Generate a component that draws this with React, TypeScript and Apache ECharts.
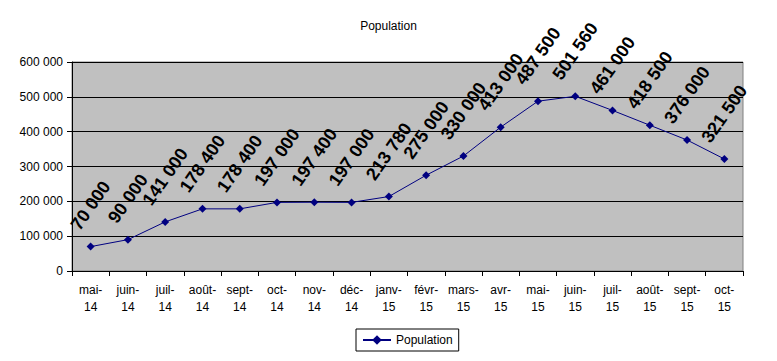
import React, { useEffect, useRef } from "react";
import * as echarts from "echarts";

const categories = [
  "mai-14", "juin-14", "juil-14", "août-14", "sept-14", "oct-14", "nov-14", "déc-14", "janv-15",
  "févr-15", "mars-15", "avr-15", "mai-15", "juin-15", "juil-15", "août-15", "sept-15", "oct-15",
];
const population = [
  70000, 90000, 141000, 178400, 178400, 197000, 197400, 197000, 213780,
  275000, 330000, 413000, 487500, 501560, 461000, 418500, 376000, 321500,
];
const yTicks = { min: 0, max: 600000, interval: 100000 };

const fmt = (v: number) => String(v).replace(/\B(?=(\d{3})+(?!\d))/g, " ");

export default function App() {
  const ref = useRef<HTMLDivElement>(null);
  useEffect(() => {
    const chart = echarts.init(ref.current!, null, { renderer: "svg" });
    const font = "Arial, 'Liberation Sans', sans-serif";
    const angle = 55;
    const labelData = population.map((v) => {
      const s = fmt(v);
      const digits = s.replace(/ /g, "").length;
      const spaces = s.length - digits;
      const len = digits * 10 + spaces * 5;
      return { value: v, label: { distance: 14.5 + len * 0.41 } };
    });
    chart.setOption({
      animation: false,
      backgroundColor: "#fff",
      textStyle: { fontFamily: font },
      title: {
        text: "Population",
        left: "center",
        top: 15,
        textStyle: { fontSize: 12, fontWeight: "normal", color: "#000", fontFamily: font },
      },
      legend: {
        left: 356,
        top: 329,
        padding: [5, 6, 5, 6],
        borderColor: "#000",
        borderWidth: 1,
        itemWidth: 28,
        itemHeight: 12,
        textStyle: { fontSize: 12, color: "#000", fontFamily: font },
        data: ["Population"],
      },
      grid: {
        left: 72,
        right: 34,
        top: 62,
        bottom: 90,
        show: true,
        backgroundColor: "#C0C0C0",
        borderColor: "#808080",
        borderWidth: 1,
      },
      xAxis: {
        type: "category",
        data: categories,
        boundaryGap: true,
        axisLine: { lineStyle: { color: "#000", width: 1 } },
        axisTick: { show: true, length: 5, lineStyle: { color: "#000" } },
        axisLabel: {
          color: "#000",
          fontSize: 12,
          fontFamily: font,
          interval: 0,
          margin: 10,
          lineHeight: 17,
          formatter: (v: string) => v.replace("-", "-\n"),
        },
      },
      yAxis: {
        type: "value",
        min: yTicks.min,
        max: yTicks.max,
        interval: yTicks.interval,
        axisLine: { show: true, lineStyle: { color: "#000", width: 1 } },
        axisTick: { show: true, length: 5, lineStyle: { color: "#000" } },
        splitLine: { lineStyle: { color: "#000", width: 1 } },
        axisLabel: { color: "#000", fontSize: 12, fontFamily: font, margin: 9, formatter: (v: number) => fmt(v) },
      },
      series: [
        {
          name: "Population",
          type: "line",
          data: labelData,
          symbol: "diamond",
          symbolSize: 8,
          lineStyle: { color: "#000080", width: 1 },
          itemStyle: { color: "#000080" },
          label: {
            show: true,
            position: "top",
            rotate: angle,
            align: "center",
            verticalAlign: "middle",
            color: "#000",
            fontSize: 18,
            fontWeight: "bold",
            fontFamily: font,
            formatter: (p: any) => fmt(p.value),
          },
        },
      ],
    });
    return () => chart.dispose();
  }, []);
  return <div ref={ref} style={{ width: 777, height: 361, position: "absolute", left: 0, top: 0 }} />;
}
